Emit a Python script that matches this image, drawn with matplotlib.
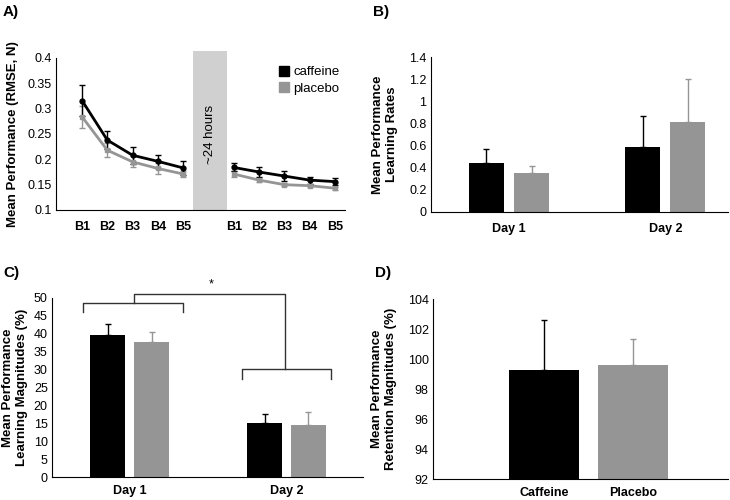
import numpy as np
import matplotlib
matplotlib.use("Agg")
import matplotlib.pyplot as plt
from matplotlib.patches import Rectangle
from matplotlib.lines import Line2D

plt.rcParams['font.family'] = ['Liberation Sans', 'DejaVu Sans']

# panel A: block means (RMSE, N)
blocks = ['B1', 'B2', 'B3', 'B4', 'B5']
caf_day1 = [0.316, 0.238, 0.208, 0.196, 0.183]
caf_day1_err = [0.031, 0.017, 0.017, 0.013, 0.013]
pla_day1 = [0.284, 0.218, 0.195, 0.182, 0.171]
pla_day1_err = [0.022, 0.014, 0.011, 0.011, 0.006]
caf_day2 = [0.184, 0.175, 0.167, 0.159, 0.156]
caf_day2_err = [0.008, 0.009, 0.009, 0.007, 0.007]
pla_day2 = [0.171, 0.159, 0.150, 0.148, 0.143]
pla_day2_err = [0.006, 0.004, 0.003, 0.003, 0.003]

# panel B: learning rates
days = ['Day 1', 'Day 2']
rate_caf = [0.44, 0.59]
rate_caf_err = [0.125, 0.275]
rate_pla = [0.355, 0.815]
rate_pla_err = [0.06, 0.385]

# panel C: learning magnitudes (%)
mag_caf = [39.7, 15.0]
mag_caf_err = [3.0, 2.5]
mag_pla = [37.6, 14.6]
mag_pla_err = [2.9, 3.6]

# panel D: retention magnitudes (%)
groups = ['Caffeine', 'Placebo']
ret = [99.3, 99.6]
ret_err = [3.3, 1.75]

BLACK = '#000000'
GREY = '#959595'
TICK_FS = 9
LAB_FS = 9.5

def style(ax):
    for s in ['top', 'right']:
        ax.spines[s].set_visible(False)
    ax.tick_params(axis='both', length=0, labelsize=TICK_FS)
    ax.tick_params(axis='y', pad=3)

fig = plt.figure(figsize=(7.3, 5.0), dpi=100)

# ---- A ----
axA = fig.add_axes([0.0767, 0.58, 0.396, 0.304])
x1 = np.arange(5)
x2 = np.arange(5) + 6
for xs, caf, ce, pla, pe in [(x1, caf_day1, caf_day1_err, pla_day1, pla_day1_err),
                             (x2, caf_day2, caf_day2_err, pla_day2, pla_day2_err)]:
    axA.errorbar(xs, pla, yerr=pe, color=GREY, marker='s', ms=3.5, lw=2,
                 elinewidth=1, capsize=2, capthick=1)
    axA.errorbar(xs, caf, yerr=ce, color=BLACK, marker='o', ms=3.5, lw=2,
                 elinewidth=1, capsize=2, capthick=1)
axA.add_patch(Rectangle((4.4, 0.1), 1.35, 0.313, color='#d0d0d0', lw=0,
                        clip_on=False, zorder=0))
axA.text(5.07, 0.25, '~24 hours', rotation=90, ha='center', va='center',
         fontsize=9.5)
axA.set_xlim(-1.03, 10.4)
axA.set_ylim(0.1, 0.4)
axA.set_yticks([0.1, 0.15, 0.2, 0.25, 0.3, 0.35, 0.4])
axA.set_yticklabels(['0.1', '0.15', '0.2', '0.25', '0.3', '0.35', '0.4'])
axA.set_xticks(list(x1) + list(x2))
axA.set_xticklabels(blocks + blocks, fontweight='bold', fontsize=LAB_FS)
axA.tick_params(axis='x', pad=8)
style(axA)
axA.set_ylabel('Mean Performance (RMSE, N)', fontweight='bold', fontsize=LAB_FS,
               labelpad=6)
handles = [Line2D([], [], ls='none', marker='s', ms=6.5, color=BLACK),
           Line2D([], [], ls='none', marker='s', ms=6.5, color=GREY)]
axA.legend(handles, ['caffeine', 'placebo'], loc='upper left',
           bbox_to_anchor=(0.725, 1.025), frameon=False, fontsize=9.5,
           handletextpad=0.2, labelspacing=0.3, handlelength=1)

# ---- B ----
axB = fig.add_axes([0.590, 0.576, 0.407, 0.31])
xd = np.arange(2)
w = 0.224
off = 0.145
axB.bar(xd - off, rate_caf, w, color=BLACK)
axB.bar(xd + off, rate_pla, w, color=GREY)
axB.errorbar(xd - off, rate_caf, yerr=[[0, 0], rate_caf_err], fmt='none',
             ecolor=BLACK, elinewidth=1, capsize=2)
axB.errorbar(xd + off, rate_pla, yerr=[[0, 0], rate_pla_err], fmt='none',
             ecolor=GREY, elinewidth=1, capsize=2)
axB.set_xlim(-0.5, 1.4)
axB.set_ylim(0, 1.4)
axB.set_yticks([0, 0.2, 0.4, 0.6, 0.8, 1.0, 1.2, 1.4])
axB.set_yticklabels(['0', '0.2', '0.4', '0.6', '0.8', '1', '1.2', '1.4'])
axB.set_xticks(xd)
axB.set_xticklabels(days, fontweight='bold', fontsize=LAB_FS)
axB.tick_params(axis='x', pad=8)
style(axB)
axB.set_ylabel('Mean Performance\nLearning Rates', fontweight='bold',
               fontsize=LAB_FS, labelpad=8)

# ---- C ----
axC = fig.add_axes([0.0712, 0.046, 0.426, 0.358])
off = 0.14
axC.bar(xd - off, mag_caf, w, color=BLACK)
axC.bar(xd + off, mag_pla, w, color=GREY)
axC.errorbar(xd - off, mag_caf, yerr=[[0, 0], mag_caf_err], fmt='none',
             ecolor=BLACK, elinewidth=1, capsize=2)
axC.errorbar(xd + off, mag_pla, yerr=[[0, 0], mag_pla_err], fmt='none',
             ecolor=GREY, elinewidth=1, capsize=2)
# significance brackets
bk = dict(color='#333333', lw=1, clip_on=False)
axC.plot([-0.296, -0.296, 0.341, 0.341], [46.1, 48.6, 48.6, 46.1], **bk)
axC.plot([0.717, 0.717, 1.283, 1.283], [27.4, 30.2, 30.2, 27.4], **bk)
axC.plot([0.029, 0.029, 0.99, 0.99], [48.6, 51.1, 51.1, 30.2], **bk)
axC.text(0.52, 52.2, '*', ha='center', va='bottom', fontsize=9)
axC.set_xlim(-0.494, 1.487)
axC.set_ylim(0, 50)
axC.set_yticks(np.arange(0, 51, 5))
axC.set_xticks(xd)
axC.set_xticklabels(days, fontweight='bold', fontsize=LAB_FS)
axC.tick_params(axis='x', pad=6)
style(axC)
axC.set_ylabel('Mean Performance\nLearning Magnitudes (%)', fontweight='bold',
               fontsize=LAB_FS, labelpad=4)

# ---- D ----
axD = fig.add_axes([0.593, 0.042, 0.404, 0.36])
xg = np.arange(2)
axD.bar(xg, ret, 0.787, color=[BLACK, GREY], bottom=0)
axD.errorbar(xg[0], ret[0], yerr=[[0], [ret_err[0]]], fmt='none',
             ecolor=BLACK, elinewidth=1, capsize=2)
axD.errorbar(xg[1], ret[1], yerr=[[0], [ret_err[1]]], fmt='none',
             ecolor=GREY, elinewidth=1, capsize=2)
axD.set_xlim(-1.247, 2.067)
axD.set_ylim(92, 104)
axD.set_yticks(np.arange(92, 105, 2))
axD.set_xticks(xg)
axD.set_xticklabels(groups, fontweight='bold', fontsize=LAB_FS)
axD.tick_params(axis='x', pad=6)
style(axD)
axD.set_ylabel('Mean Performance\nRetention Magnitudes (%)', fontweight='bold',
               fontsize=LAB_FS, labelpad=8)

# panel letters
for lab, x, y in [('A)', 0.004, 0.976), ('B)', 0.511, 0.976),
                  ('C)', 0.004, 0.454), ('D)', 0.514, 0.454)]:
    fig.text(x, y, lab, fontsize=11, fontweight='bold', ha='left', va='center')

fig.savefig('out.png', dpi=100)
